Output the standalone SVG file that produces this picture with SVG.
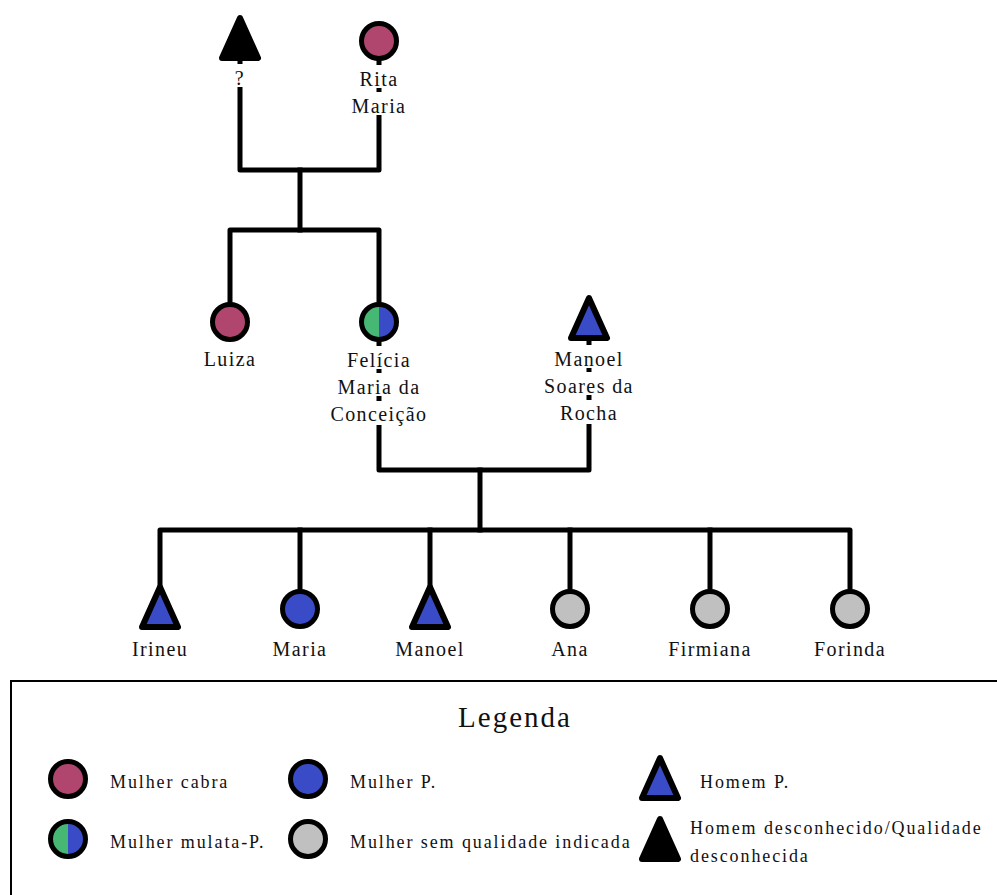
<svg xmlns="http://www.w3.org/2000/svg" xmlns:xlink="http://www.w3.org/1999/xlink" width="997" height="895" viewBox="0 0 997 895">
<style>
.ln{fill:none;stroke:#000;stroke-width:5;stroke-linejoin:round;stroke-linecap:square}
.cir{stroke:#000;stroke-width:5}
.tri{stroke:#000;stroke-width:6;stroke-linejoin:round}
.cabra{fill:#B0466E}
.pb{fill:#3A4BC8}
.green{fill:#46B874}
.gray{fill:#C0C0C0}
.black{fill:#000}
.bg{fill:#fff}
.t{font-family:"Liberation Serif","Times New Roman",Times,Tinos,"Noto Serif","DejaVu Serif",FreeSerif,"Nimbus Roman",serif;fill:#111}
.lbl{font-size:20px;letter-spacing:1.4px;text-anchor:middle}
.leg{font-size:18px;letter-spacing:1.9px}
.title{font-size:29px;letter-spacing:2px;text-anchor:middle}
</style>
<defs>
<path id="tri" d="M0,0 L18,40 L-18,40 Z"/>
<path id="halfL" d="M0,-17.5 A17.5,17.5 0 0 0 0,17.5 Z"/>
<path id="halfR" d="M0,-17.5 A17.5,17.5 0 0 1 0,17.5 Z"/>
</defs>

<g id="connectors">
<path class="ln" d="M240,40 V170 H379 V40"/>
<path class="ln" d="M300,170 V230"/>
<path class="ln" d="M230,322 V230 H379 V470 H589 V320"/>
<path class="ln" d="M480,470 V530"/>
<path class="ln" d="M160,608 V530 H850 V609"/>
<path class="ln" d="M300,530 V609"/>
<path class="ln" d="M430,530 V608"/>
<path class="ln" d="M570,530 V609"/>
<path class="ln" d="M710,530 V609"/>
</g>

<g id="n-unknown">
<use xlink:href="#tri" x="240" y="18" class="tri black"/>
<rect class="bg" x="233" y="64" width="14" height="23"/>
<text class="t lbl" x="240" y="85">?</text>
</g>

<g id="n-rita">
<circle class="cir cabra" cx="379" cy="41" r="17.5"/>
<rect class="bg" x="372" y="65" width="14" height="23"/>
<rect class="bg" x="372" y="92" width="14" height="23"/>
<text class="t lbl" x="379" y="86">Rita</text>
<text class="t lbl" x="379" y="113">Maria</text>
</g>

<g id="n-luiza">
<circle class="cir cabra" cx="230" cy="322" r="17.5"/>
<text class="t lbl" x="230" y="366">Luiza</text>
</g>

<g id="n-felicia">
<use xlink:href="#halfL" x="379" y="322" class="green"/>
<use xlink:href="#halfR" x="379" y="322" class="pb"/>
<circle cx="379" cy="322" r="17.5" fill="none" stroke="#000" stroke-width="5"/>
<rect class="bg" x="372" y="346" width="14" height="23"/>
<rect class="bg" x="372" y="373" width="14" height="23"/>
<rect class="bg" x="372" y="401" width="14" height="24"/>
<text class="t lbl" x="379" y="367">Felícia</text>
<text class="t lbl" x="379" y="394">Maria da</text>
<text class="t lbl" x="379" y="421">Conceição</text>
</g>

<g id="n-manoel-soares">
<use xlink:href="#tri" x="589" y="298" class="tri pb"/>
<rect class="bg" x="582" y="345" width="14" height="23"/>
<rect class="bg" x="582" y="372" width="14" height="23"/>
<rect class="bg" x="582" y="400" width="14" height="24"/>
<text class="t lbl" x="589" y="366">Manoel</text>
<text class="t lbl" x="589" y="393">Soares da</text>
<text class="t lbl" x="589" y="420">Rocha</text>
</g>

<g id="n-irineu">
<use xlink:href="#tri" x="160" y="587" class="tri pb"/>
<text class="t lbl" x="160" y="656">Irineu</text>
</g>
<g id="n-maria">
<circle class="cir pb" cx="300" cy="609" r="17.5"/>
<text class="t lbl" x="300" y="656">Maria</text>
</g>
<g id="n-manoel">
<use xlink:href="#tri" x="430" y="587" class="tri pb"/>
<text class="t lbl" x="430" y="656">Manoel</text>
</g>
<g id="n-ana">
<circle class="cir gray" cx="570" cy="609" r="17.5"/>
<text class="t lbl" x="570" y="656">Ana</text>
</g>
<g id="n-firmiana">
<circle class="cir gray" cx="710" cy="609" r="17.5"/>
<text class="t lbl" x="710" y="656">Firmiana</text>
</g>
<g id="n-forinda">
<circle class="cir gray" cx="850" cy="609" r="17.5"/>
<text class="t lbl" x="850" y="656">Forinda</text>
</g>

<g id="legend">
<rect x="11" y="681" width="1000" height="300" fill="#fff" stroke="#000" stroke-width="2"/>
<text class="t title" x="515" y="727">Legenda</text>
<circle class="cir cabra" cx="68" cy="779" r="17.5"/>
<text class="t leg" x="110" y="788">Mulher cabra</text>
<circle class="cir pb" cx="308" cy="779" r="17.5"/>
<text class="t leg" x="350" y="788">Mulher P.</text>
<use xlink:href="#tri" x="660" y="758" class="tri pb"/>
<text class="t leg" x="700" y="788">Homem P.</text>
<use xlink:href="#halfL" x="68" y="839" class="green"/>
<use xlink:href="#halfR" x="68" y="839" class="pb"/>
<circle cx="68" cy="839" r="17.5" fill="none" stroke="#000" stroke-width="5"/>
<text class="t leg" x="110" y="848">Mulher mulata-P.</text>
<circle class="cir gray" cx="308" cy="839" r="17.5"/>
<text class="t leg" x="350" y="848">Mulher sem qualidade indicada</text>
<use xlink:href="#tri" x="660" y="819" class="tri black"/>
<text class="t leg" x="690" y="834">Homem desconhecido/Qualidade</text>
<text class="t leg" x="690" y="862">desconhecida</text>
</g>
</svg>
